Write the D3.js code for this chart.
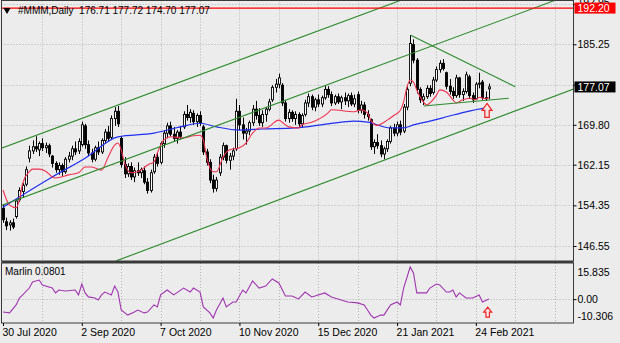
<!DOCTYPE html>
<html>
<head>
<meta charset="utf-8">
<script src="https://cdn.jsdelivr.net/npm/d3@7"></script>
<style>
  body { margin: 0; background: #ececec; }
  svg { display: block; }
</style>
</head>
<body>
<script>
// daily bars, [open, high, low, close], 30 Jul 2020 .. early Mar 2021
const candles = [
  [153.8,154.6,151.0,151.6],[151.2,152.0,149.6,150.4],[150.6,151.5,149.5,151.0],[151.0,151.8,149.8,150.2],
  [152.2,155.6,151.8,155.2],[155.4,157.8,155.0,157.2],[157.0,158.6,155.8,158.2],[158.4,161.8,158.0,161.2],
  [163.4,165.8,162.6,164.8],[164.8,166.8,164.2,165.6],[165.6,167.6,164.6,165.2],[165.0,166.6,163.8,166.2],
  [166.2,167.2,164.8,165.4],[165.4,166.4,164.4,165.8],[165.8,166.2,163.6,164.2],[163.8,164.0,161.6,162.4],
  [162.4,162.8,160.6,161.2],[161.2,162.6,160.2,162.0],[162.0,162.4,160.0,160.8],[160.8,163.6,160.4,163.2],
  [163.2,164.6,162.6,163.8],[163.8,165.8,163.0,165.2],[165.2,166.6,164.0,164.6],[164.8,167.2,164.2,166.6],
  [166.0,170.4,165.6,169.8],[169.6,170.0,165.2,166.0],[166.0,166.8,163.8,164.4],[164.4,165.2,162.6,163.2],
  [163.2,165.8,162.8,165.4],[165.4,166.6,164.0,164.6],[164.6,167.2,164.2,166.8],[166.8,169.0,166.2,168.4],
  [168.4,169.6,166.6,167.2],[167.4,171.6,167.0,171.0],[171.0,173.2,169.6,172.4],[172.4,173.4,169.4,170.0],
  [167.2,167.6,161.6,162.2],[162.2,163.6,159.6,160.4],[160.4,162.4,159.8,161.8],[161.8,162.6,159.2,159.8],
  [159.8,161.6,158.8,161.0],[161.0,162.6,160.0,160.6],[160.6,161.6,159.6,161.2],[161.0,161.8,158.4,158.8],
  [158.8,159.6,156.6,157.2],[157.2,161.2,156.8,160.6],[160.8,164.2,160.4,163.6],[163.6,164.6,161.8,162.4],
  [162.6,166.6,162.2,166.2],[166.2,168.8,165.4,168.2],[168.2,170.2,167.2,169.6],[169.6,170.4,167.6,168.0],
  [168.0,169.4,166.6,167.2],[167.2,168.8,166.2,168.4],[168.4,169.6,167.0,167.6],[169.4,172.4,169.0,171.8],
  [171.8,173.6,170.6,171.2],[171.2,172.8,170.2,172.2],[172.0,172.6,169.8,170.4],[170.4,172.0,169.4,171.6],
  [171.6,172.4,169.6,170.2],[169.4,169.8,164.0,164.6],[164.6,165.2,162.0,162.6],[162.6,163.2,158.6,159.2],
  [159.2,160.2,156.8,157.6],[157.6,159.8,157.0,159.2],[160.6,164.2,160.0,163.6],[163.6,166.4,163.0,165.8],
  [165.8,166.0,162.4,163.0],[163.0,164.4,161.2,163.8],[163.8,165.4,163.0,164.8],[165.2,174.8,164.8,172.4],
  [172.4,173.6,168.8,169.8],[169.8,171.2,167.0,168.2],[168.2,169.2,166.0,168.6],[168.6,170.6,167.8,170.2],
  [170.2,173.6,169.6,172.8],[172.8,174.4,170.8,171.6],[171.6,173.0,169.6,170.2],[170.2,172.6,169.4,171.8],
  [171.8,173.2,170.4,172.8],[172.8,174.8,172.4,174.2],[174.6,177.4,174.2,177.0],[177.0,178.6,176.0,177.6],
  [177.6,179.6,176.8,178.8],[177.4,177.8,173.4,174.0],[174.0,174.6,170.4,171.0],[171.0,172.8,170.2,172.2],
  [172.2,172.6,170.4,171.0],[171.0,172.4,169.8,171.8],[171.8,172.2,169.4,170.0],[170.0,172.0,169.2,171.6],
  [171.8,174.6,171.4,174.0],[174.0,175.8,173.2,175.2],[175.2,175.6,172.6,173.2],[173.2,175.0,172.4,174.6],
  [174.6,175.6,173.2,173.8],[173.8,175.4,173.2,175.0],[175.0,177.4,174.6,176.6],[176.6,177.2,175.0,175.6],
  [175.6,176.2,173.4,174.0],[174.0,175.6,173.6,175.2],[175.2,175.8,173.8,174.2],[174.2,175.4,172.8,175.0],
  [175.0,176.0,173.6,174.4],[174.4,175.8,173.2,175.4],[175.4,176.0,173.4,173.8],[173.8,175.6,173.2,174.8],
  [175.6,176.2,172.0,172.6],[172.6,174.4,172.0,173.6],[173.6,174.2,171.0,171.8],[171.8,172.6,170.6,171.4],
  [170.8,171.0,165.0,165.6],[165.6,167.0,164.2,166.4],[166.4,168.0,165.2,165.8],[165.8,166.8,163.6,164.2],
  [164.2,165.6,163.2,165.2],[165.2,167.0,164.6,166.6],[166.6,169.6,166.2,169.2],[169.2,170.0,167.6,168.2],
  [168.2,170.4,167.6,169.8],[169.8,170.6,167.8,168.4],[168.6,173.8,168.2,173.2],[173.2,177.2,172.6,176.6],
  [177.8,187.0,177.2,185.4],[185.2,186.2,181.6,182.2],[182.2,182.6,175.8,176.6],[176.6,177.0,174.0,174.6],
  [174.6,175.8,173.6,175.2],[175.2,177.4,174.8,176.8],[176.8,177.4,175.2,175.8],[176.0,179.0,175.6,178.4],
  [178.4,181.0,178.0,180.4],[180.4,182.2,179.8,181.6],[181.6,182.4,180.2,180.6],[179.8,180.0,176.6,177.2],
  [177.2,178.6,175.6,176.2],[176.2,177.0,174.8,175.4],[175.4,179.4,175.0,178.8],[178.8,179.0,175.0,175.6],
  [175.6,176.8,174.4,176.2],[176.2,180.0,175.8,179.4],[179.0,179.4,174.8,175.4],[175.4,176.0,174.0,174.6],
  [174.8,178.0,174.6,177.6],[177.6,179.8,176.8,177.8],[178.0,178.4,174.6,175.0],[175.0,176.2,174.4,174.8],
  [176.71,177.72,174.70,177.07]
];

// moving averages: [bar, price]
const redMA = [[0,157.3],[2,154.4],[4,153.9],[5,155.4],[6,158.6],[8,160.8],[9,161.3],[11,161.3],[13,160.9],
  [15,159.8],[16,159.6],[20,160.2],[23,160.6],[25,161.7],[27,161.7],[30,161.1],[32,163.6],[34,165.9],[35,166.3],
  [36,165.0],[37,162.5],[39,160.6],[42,161.1],[44,162.1],[46,162.7],[47,164.4],[49,166.9],[51,167.5],[55,167.3],
  [58,167.7],[60,167.8],[61,166.9],[62,163.6],[64,160.8],[65,160.8],[67,163.6],[69,165.0],[72,165.4],[74,166.3],
  [76,168.2],[78,169.2],[80,169.2],[84,170.7],[85,170.3],[87,169.4],[90,169.2],[91,169.8],[94,170.3],[99,172.1],
  [100,172.7],[107,172.3],[109,172.7],[111,172.1],[112,170.7],[114,169.7],[117,170.7],[119,171.6],[121,172.6],
  [122,174.2],[123,177.0],[124,178.4],[125,178.0],[126,176.5],[128,174.2],[129,173.6],[130,174.0],[132,175.5],
  [133,176.5],[135,176.1],[137,174.6],[138,174.0],[140,174.6],[142,174.9],[144,174.6],[145,175.1],[147,174.8],[148,175.0]];
const blueMA = [[0,154.0],[15,159.8],[25,163.4],[35,167.5],[46,168.2],[54,169.4],[60,170.1],[65,169.4],[72,168.8],
  [79,169.0],[89,169.2],[99,170.0],[107,170.5],[111,170.3],[118,169.2],[122,169.2],[125,169.8],[130,170.5],
  [136,171.5],[141,172.3],[148,173.2]];

// Marlin oscillator: [bar, value]
const marlin = [[0,-5.8],[2,-6.2],[4,-2.6],[5,0.5],[6,1.9],[8,5.0],[9,7.7],[11,8.6],[12,6.4],[15,5.0],[16,2.8],
  [17,4.1],[19,3.7],[22,4.1],[23,1.9],[24,6.8],[25,2.8],[26,1.0],[28,0.5],[29,-0.4],[30,1.9],[31,3.2],[33,1.9],
  [34,5.9],[35,3.2],[36,-4.9],[38,-7.2],[40,-5.8],[41,-4.9],[43,-6.2],[44,-5.8],[46,-2.6],[47,-3.5],[48,1.9],
  [50,4.1],[52,1.9],[55,5.0],[57,3.2],[58,5.0],[60,3.2],[61,-3.5],[63,-6.2],[64,-8.5],[65,-4.9],[67,0.5],
  [68,-3.5],[70,-1.3],[71,-1.3],[73,4.1],[74,2.8],[76,8.2],[78,5.0],[80,5.9],[82,9.1],[84,7.3],[86,1.4],
  [88,1.4],[90,0.1],[92,3.2],[94,1.0],[95,1.4],[98,2.8],[100,1.0],[103,-0.4],[105,-1.3],[108,-1.7],[110,-2.6],
  [111,-4.9],[112,-7.2],[113,-8.5],[115,-7.2],[116,-7.2],[118,-2.6],[120,-1.3],[121,-2.6],[122,5.0],[124,14.5],
  [125,11.8],[126,2.8],[129,2.8],[130,5.0],[132,6.8],[133,6.4],[135,3.2],[136,3.2],[137,4.1],[138,1.0],
  [139,2.8],[141,0.5],[143,0.5],[145,1.9],[146,-1.3],[148,0.0801]];

// trend lines drawn by the analyst: [[bar, price], [bar, price]]
const channel = [
  [[-1, 165.2], [125, 194.6]],
  [[-1, 154.2], [172, 194.6]],
  [[34.5, 143.7], [176, 177.2]]
];
const triangle = [
  [[124.2, 187.0], [156, 177.1]],
  [[128.1, 173.4], [154, 174.9]]
];

const tickBars = [0, 24, 48, 72, 96, 120, 144];
const tickDates = ["30 Jul 2020", "2 Sep 2020", "7 Oct 2020", "10 Nov 2020", "15 Dec 2020", "21 Jan 2021", "24 Feb 2021"];
const priceTicks = [146.55, 154.35, 162.15, 169.80, 177.50, 185.25, 192.95];
const hiddenTick = 177.50;   // sits under the last-price box
const oscTicks = [15.835, 0, -10.306];
const oscTickLabels = ["15.835", "0.00", "-10.306"];
const levelPrice = 192.20;
const arrowMain = [147.4, 173.9];
const arrowOsc = [147.6, -3.6];

const W = 620, H = 343;
const main = {l: 1.5, r: 573.5, t: 0.5, b: 261};
const sub = {t: 263, b: 323};

const svg = d3.select("body").append("svg")
    .attr("width", W)
    .attr("height", H)
    .style("font-family", "'Liberation Sans', Arial, sans-serif");

svg.append("rect").attr("width", W).attr("height", H).attr("fill", "#ececec");

const x = d3.scaleLinear().domain([0, 148]).range([3, 489]);
const y = d3.scaleLinear().domain([146.55, 185.25]).range([246, 44.3]);
const yo = d3.scaleLinear().domain([-10.306, 15.835]).range([322, 264]);

const defs = svg.append("defs");
defs.append("clipPath").attr("id", "clipMain").append("rect")
    .attr("x", main.l).attr("y", main.t).attr("width", main.r - main.l).attr("height", main.b - main.t);
defs.append("clipPath").attr("id", "clipSub").append("rect")
    .attr("x", main.l).attr("y", sub.t).attr("width", main.r - main.l).attr("height", sub.b - sub.t);

const gMain = svg.append("g").attr("clip-path", "url(#clipMain)");
const gSub = svg.append("g").attr("clip-path", "url(#clipSub)");

// grid
const gridBars = d3.range(12, 175, 12);
const gridStyle = sel => sel.attr("stroke", "#b4b4b4").attr("stroke-width", 1).attr("stroke-dasharray", "1,2");

gMain.selectAll("line.vg").data(gridBars).join("line")
    .attr("x1", d => Math.round(x(d)) + 0.5).attr("x2", d => Math.round(x(d)) + 0.5)
    .attr("y1", main.t).attr("y2", main.b).call(gridStyle);
gMain.selectAll("line.hg").data(priceTicks).join("line")
    .attr("x1", main.l).attr("x2", main.r)
    .attr("y1", d => Math.round(y(d)) + 0.5).attr("y2", d => Math.round(y(d)) + 0.5).call(gridStyle);
gSub.selectAll("line.vg").data(gridBars).join("line")
    .attr("x1", d => Math.round(x(d)) + 0.5).attr("x2", d => Math.round(x(d)) + 0.5)
    .attr("y1", sub.t).attr("y2", sub.b).call(gridStyle);
gSub.append("line")
    .attr("x1", main.l).attr("x2", main.r)
    .attr("y1", Math.round(yo(0)) + 0.5).attr("y2", Math.round(yo(0)) + 0.5).call(gridStyle);

// candles
const cx = i => Math.round(x(i)) + 0.5;
gMain.selectAll("line.wick").data(candles).join("line")
    .attr("x1", (d, i) => cx(i)).attr("x2", (d, i) => cx(i))
    .attr("y1", d => y(d[1])).attr("y2", d => y(d[2]))
    .attr("stroke", "#000").attr("stroke-width", 1);
gMain.selectAll("rect.body").data(candles).join("rect")
    .attr("x", (d, i) => cx(i) - 1)
    .attr("width", 2)
    .attr("y", d => y(Math.max(d[0], d[3])))
    .attr("height", d => Math.max(0.5, Math.abs(y(d[0]) - y(d[3]))))
    .attr("fill", d => d[3] >= d[0] ? "#fff" : "#000")
    .attr("stroke", "#000").attr("stroke-width", 0.9);

// moving averages
const maLine = d3.line().x(d => x(d[0])).y(d => y(d[1])).curve(d3.curveMonotoneX);
gMain.append("path").attr("d", maLine(blueMA)).attr("fill", "none").attr("stroke", "#1f2ff0").attr("stroke-width", 1.2);
gMain.append("path").attr("d", maLine(redMA)).attr("fill", "none").attr("stroke", "#f0304f").attr("stroke-width", 1.1);

// trend lines
const seg = d3.line().x(d => x(d[0])).y(d => y(d[1]));
gMain.selectAll("path.tl").data(channel.concat(triangle)).join("path")
    .attr("d", seg).attr("fill", "none").attr("stroke", "#2e8a2e").attr("stroke-width", 1.1);

// level line
gMain.append("line")
    .attr("x1", main.l).attr("x2", main.r)
    .attr("y1", y(levelPrice)).attr("y2", y(levelPrice))
    .attr("stroke", "#ff0000").attr("stroke-width", 1.2);

// arrows
function upArrow(g, px, py, w, h) {
  const hh = h * 0.5, sw = w * 0.22;
  const p = d3.path();
  p.moveTo(px, py);
  p.lineTo(px + w / 2, py + hh);
  p.lineTo(px + sw, py + hh);
  p.lineTo(px + sw, py + h);
  p.lineTo(px - sw, py + h);
  p.lineTo(px - sw, py + hh);
  p.lineTo(px - w / 2, py + hh);
  p.closePath();
  g.append("path").attr("d", p.toString())
      .attr("fill", "#f6e6e6").attr("stroke", "#ee2222").attr("stroke-width", 1.2);
}
upArrow(svg, x(arrowMain[0]), y(arrowMain[1]), 10, 14);
upArrow(svg, x(arrowOsc[0]), yo(arrowOsc[1]), 8, 10);

// oscillator line
const oscLine = d3.line().x(d => x(d[0])).y(d => yo(d[1]));
gSub.append("path").attr("d", oscLine(marlin)).attr("fill", "none").attr("stroke", "#a035b0").attr("stroke-width", 1.1);

// frames
const frame = svg.append("g").attr("fill", "none").attr("stroke", "#3a3a3a");
frame.append("rect").attr("x", main.l).attr("y", main.t).attr("width", main.r - main.l).attr("height", main.b - main.t);
frame.append("rect").attr("x", main.l).attr("y", sub.t).attr("width", main.r - main.l).attr("height", sub.b - sub.t);
frame.append("line").attr("x1", main.l).attr("x2", main.r).attr("y1", 262).attr("y2", 262).attr("stroke-width", 2);

// axes
const axFont = sel => sel.selectAll("text").attr("font-size", "10.5px").attr("fill", "#000")
    .attr("font-family", "'Liberation Sans', Arial, sans-serif");

const yAxis = svg.append("g").attr("transform", `translate(${main.r},0)`)
    .call(d3.axisRight(y).tickValues(priceTicks).tickSize(3).tickPadding(1).tickFormat(d3.format(".2f")));
yAxis.select(".domain").remove();
yAxis.call(axFont);
yAxis.selectAll(".tick").filter(d => d === hiddenTick).select("text").remove();
yAxis.selectAll(".tick text").attr("dy", d => d === 192.95 ? "0.15em" : "0.32em");

const oAxis = svg.append("g").attr("transform", `translate(${main.r},0)`)
    .call(d3.axisRight(yo).tickValues(oscTicks).tickSize(3).tickPadding(1).tickFormat((d, i) => oscTickLabels[i]));
oAxis.select(".domain").remove();
oAxis.call(axFont);
oAxis.selectAll(".tick line").attr("opacity", (d, i) => i === 1 ? 1 : 0);
oAxis.selectAll(".tick text").attr("dy", (d, i) => i === 0 ? "1.05em" : i === 2 ? "-0.2em" : "0.32em");

const xAxis = svg.append("g").attr("transform", `translate(0,${sub.b})`)
    .call(d3.axisBottom(x).tickValues(tickBars).tickSize(3).tickPadding(3).tickFormat((d, i) => tickDates[i]));
xAxis.select(".domain").remove();
xAxis.call(axFont);
xAxis.selectAll(".tick text").attr("text-anchor", "start").attr("x", -1);

// price labels on the scale
function priceBox(val, color) {
  const g = svg.append("g").attr("transform", `translate(${main.r + 1},${y(val)})`);
  g.append("rect").attr("x", 0).attr("y", -5.5).attr("width", 41).attr("height", 11).attr("fill", color);
  g.append("text").attr("x", 3).attr("dy", "0.35em").attr("font-size", "10.5px").attr("fill", "#fff")
      .text(d3.format(".2f")(val));
}
priceBox(levelPrice, "#ff0000");
priceBox(candles[candles.length - 1][3], "#000000");

// header
const last = candles[candles.length - 1];
svg.append("path").attr("d", d3.symbol(d3.symbolTriangle, 22)()).attr("fill", "#000")
    .attr("transform", "translate(7,10) rotate(180)");
svg.append("text").attr("x", 18).attr("y", 14).attr("font-size", "10px").attr("fill", "#000")
    .attr("xml:space", "preserve")
    .text(`#MMM,Daily  ${last.map(d3.format(".2f")).join(" ")}`);

svg.append("text").attr("x", 5).attr("y", 275).attr("font-size", "10px").attr("fill", "#000")
    .text(`Marlin ${d3.format(".4f")(marlin[marlin.length - 1][1])}`);
</script>
</body>
</html>
